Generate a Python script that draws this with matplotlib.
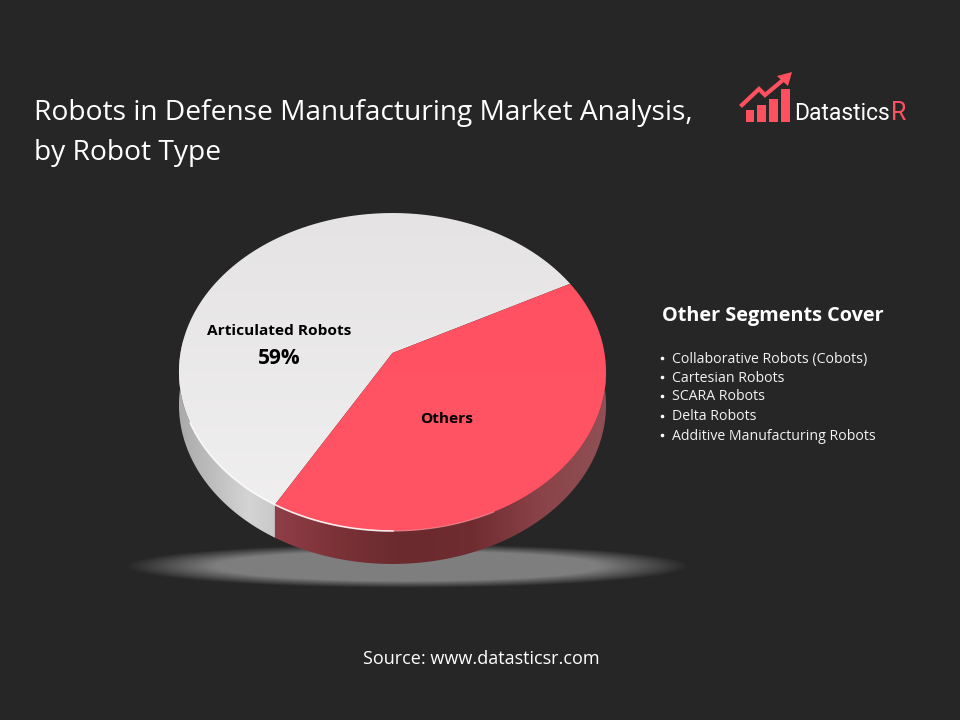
import numpy as np
import matplotlib
matplotlib.use("Agg")
import matplotlib.pyplot as plt
from matplotlib.colors import LinearSegmentedColormap
from matplotlib.patches import Polygon

plt.rcParams["font.family"] = ["Open Sans", "DejaVu Sans"]

# data
segments = ["Articulated Robots", "Others"]
shares = [59, 41]
share_labels = ["59%", ""]
other_segments = ["Collaborative Robots (Cobots)", "Cartesian Robots", "SCARA Robots",
                  "Delta Robots", "Additive Manufacturing Robots"]
title_lines = ["Robots in Defense Manufacturing Market Analysis,", "by Robot Type"]

BG = "#262626"
RED = "#FF5060"

# pie geometry, pixels
CX, CY = 392.5, 353
SX, SY = 212, 156.7
PERSP = 0.1195
DEPTH = 33
START = 27.8


def project(theta_deg, r=1.0):
    t = np.radians(theta_deg)
    x, y = r * np.cos(t), r * np.sin(t)
    w = 1 + PERSP * y
    return CX + SX * x / w, CY - SY * y / w


def gradient(ax, clip, extent, colors, vertical=False):
    cmap = LinearSegmentedColormap.from_list("g", colors)
    g = np.linspace(0, 1, 256)
    g = g[:, None] if vertical else g[None, :]
    im = ax.imshow(g, cmap=cmap, extent=extent, aspect="auto", zorder=clip.get_zorder(),
                   interpolation="bilinear")
    im.set_clip_path(clip)


fig = plt.figure(figsize=(9.6, 7.2), dpi=100, facecolor=BG)
ax = fig.add_axes([0, 0, 1, 1])
ax.set_facecolor(BG)

# shadow under the pie
sx, sy = np.meshgrid(np.linspace(-1, 1, 400), np.linspace(-1, 1, 120))
d = np.sqrt(sx**2 + sy**2)
alpha = np.clip((1 - d) / 0.32, 0, 1)
shadow = np.zeros(d.shape + (4,))
shadow[..., :3] = 0.54
shadow[..., 3] = alpha * 0.9
ax.imshow(shadow, extent=[125, 690, 588, 544], aspect="auto", zorder=1, interpolation="bilinear")

# slices run clockwise from START, the white one ends where the red one begins
spans = np.array(shares) / sum(shares) * 360
red_a = START - spans[1]
red_b = START
white_a = START
white_b = START + spans[0]

wall_colors = {
    "white": ["#a8a8a8", "#bdbdbd", "#d4d4d4", "#c4c4c4"],
    "red": ["#93404a", "#7c3238", "#6a2a2e", "#6f2c31", "#8a4349", "#8f5155"],
}

for name, a, b, ext in [("white", white_a, white_b, [175, 285, 540, 340]),
                        ("red", red_a, red_b, [265, 610, 570, 380])]:
    th = np.linspace(a, b, 300)
    x, y = project(th)
    pts = np.r_[np.c_[x, y], np.c_[x[::-1], y[::-1] + DEPTH]]
    wall = Polygon(pts, closed=True, fc="none", ec="none", zorder=2)
    ax.add_patch(wall)
    gradient(ax, wall, ext, wall_colors[name])

# top faces
for a, b, cols, ext in [(white_a, white_b, ["#e5e3e4", "#f1f0f1"], [170, 610, 535, 210]),
                        (red_a, red_b, [RED, "#FF5464"], [170, 610, 535, 210])]:
    th = np.linspace(a, b, 300)
    x, y = project(th)
    pts = np.r_[[[CX, CY]], np.c_[x, y]]
    face = Polygon(pts, closed=True, fc="none", ec="none", zorder=3)
    ax.add_patch(face)
    gradient(ax, face, ext, cols, vertical=True)

# rim highlight on the front edge
x, y = project(np.linspace(205, white_b + 30, 150))
ax.plot(x, y, color="white", lw=1.2, alpha=0.9, zorder=4, solid_capstyle="round")
x, y = project(np.linspace(white_b + 30, white_b + 55, 60))
ax.plot(x, y, color="#ff9aa3", lw=0.8, alpha=0.7, zorder=4)

# pie labels
ax.text(279, 331, segments[0], color="black", fontsize=11.1, fontweight="bold",
        ha="center", va="center", zorder=5)
ax.text(279, 359, share_labels[0], color="black", fontsize=15, fontweight="bold",
        ha="center", va="center", zorder=5)
ax.text(447, 419, segments[1], color="black", fontsize=11.1, fontweight="bold",
        ha="center", va="center", zorder=5)

# title
ax.text(34, 113, title_lines[0], color="white", fontsize=20.25, ha="left", va="center", zorder=5)
ax.text(34, 153, title_lines[1], color="white", fontsize=20.25, ha="left", va="center", zorder=5)

# right hand list
ax.text(772.5, 316, "Other Segments Cover", color="white", fontsize=14.35, fontweight="bold",
        ha="center", va="center", zorder=5)
list_y = [359, 378, 397, 417, 436]
for name, yy in zip(other_segments, list_y):
    ax.plot([662], [yy - 1.5], "o", color="white", ms=2.6, mew=0, zorder=5)
    ax.text(672, yy, name, color="#f2f2f2", fontsize=10.15, ha="left", va="center", zorder=5)

# source
ax.text(481, 659, "Source: www.datasticsr.com", color="white", fontsize=13,
        ha="center", va="center", zorder=5)

# logo
for x0, x1, top in [(746, 754, 110), (757, 766, 105), (769, 778, 99), (781, 790, 89)]:
    ax.add_patch(Polygon([[x0, 122], [x1, 122], [x1, top], [x0, top]], fc=RED, ec="none", zorder=5))
ax.plot([742, 759, 765, 783], [105, 89, 95, 80], color=RED, lw=3, zorder=5, solid_joinstyle="miter")
ax.add_patch(Polygon([[792, 72], [777, 76], [788, 86]], fc=RED, ec="none", zorder=5))
ax.text(794, 113, "Datastics", color="white", fontsize=16.5, family="Roboto",
        ha="left", va="center", zorder=5)
ax.text(891, 113, "R", color=RED, fontsize=18, family="Roboto", ha="left", va="center", zorder=5)

ax.set_xlim(0, 960)
ax.set_ylim(720, 0)
ax.axis("off")

fig.savefig("out.png", dpi=100, facecolor=BG)
